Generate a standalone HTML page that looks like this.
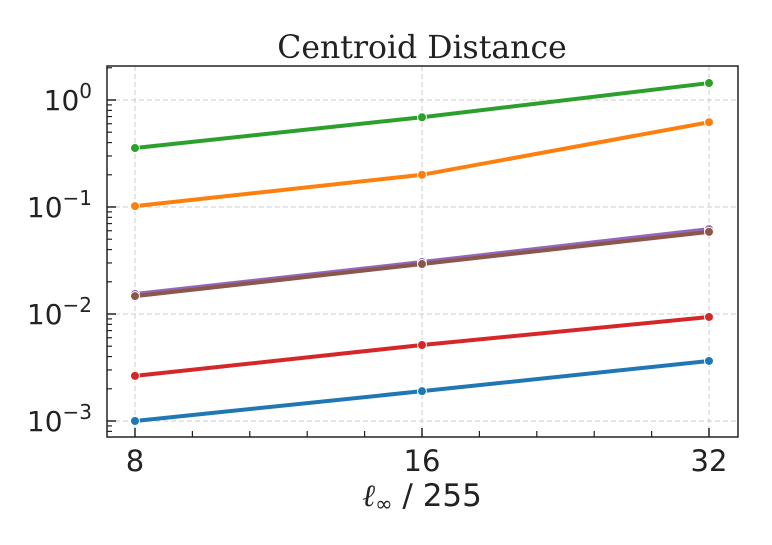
<!DOCTYPE html>
<html><head><meta charset="utf-8"><style>
body{margin:0;background:#fff;}
svg{display:block;}
</style></head><body>
<svg id="chart" width="772" height="545" xmlns="http://www.w3.org/2000/svg">
<text x="422" y="58" text-anchor="middle" font-family="DejaVu Serif, Liberation Serif, serif" font-size="31.5" fill="#222">Centroid Distance</text>
<g id="grid"></g><g id="ticks"></g><g id="series"></g>
<rect x="107" y="66" width="631" height="371" fill="none" stroke="#222" stroke-width="1.5"/>
<text x="422" y="506" text-anchor="middle" font-family="DejaVu Sans, Liberation Sans, sans-serif" font-size="31" fill="#222"><tspan font-family="DejaVu Serif, serif" font-style="italic">ℓ</tspan><tspan font-size="21" dy="5">∞</tspan><tspan dy="-5"> / 255</tspan></text>
</svg>
<script>
const categories=[8,16,32];
const seriesColors=['#2ca02c','#ff7f0e','#9467bd','#8c564b','#d62728','#1f77b4'];
const green=[0.356,0.69,1.44];
const orange=[0.102,0.2,0.62];
const purple=[0.0154,0.0306,0.0622];
const brown=[0.0147,0.0293,0.0586];
const red=[0.00264,0.00513,0.00938];
const blue=[0.001,0.0019,0.00364];
const yTickExps=[0,-1,-2,-3];
const xTickLabels=['8','16','32'];
const NS='http://www.w3.org/2000/svg';
function xs(v){return 135+287*Math.log2(v/8);}
function ys(v){return 100-107*Math.log10(v);}
function mk(t,a,p){const e=document.createElementNS(NS,t);for(const k in a)e.setAttribute(k,a[k]);p.appendChild(e);return e;}
const grid=document.getElementById('grid'),ticks=document.getElementById('ticks'),ser=document.getElementById('series');
categories.forEach((c,i)=>{const x=xs(c);
 const g=mk('line',{x1:x,x2:x,y1:66,y2:437,stroke:'#ccc','stroke-dasharray':'5,3'},grid);
 
 
 mk('line',{x1:x,x2:x,y1:437,y2:428,stroke:'#222','stroke-width':1.5},ticks);
 const t=mk('text',{x:x,y:471,'text-anchor':'middle','font-family':'DejaVu Sans, Liberation Sans, sans-serif','font-size':29,fill:'#222'},ticks);
 t.textContent=xTickLabels[i];
 
 
 if(i<categories.length-1){for(let k=1;k<5;k++){const mx=xs(c*Math.pow(2,k/5));mk('line',{x1:mx,x2:mx,y1:437,y2:431,stroke:'#222','stroke-width':1.2},ticks);}}
});
yTickExps.forEach(e=>{const y=ys(Math.pow(10,e));
 const g=mk('line',{x1:107,x2:738,y1:y,y2:y,stroke:'#ccc','stroke-dasharray':'5,3'},grid);
 
 
 mk('line',{x1:107,x2:116,y1:y,y2:y,stroke:'#222','stroke-width':1.5},ticks);
 const t=mk('text',{x:92,y:y+10,'text-anchor':'end','font-family':'DejaVu Sans, Liberation Sans, sans-serif','font-size':28,fill:'#222'},ticks);
 t.innerHTML='10<tspan font-size="20" dy="-12">'+(e<0?'\u2212'+(-e):e)+'</tspan>';
 
 
});
for(let e=-4;e<=0;e++)for(let m=2;m<10;m++){const y=ys(m*Math.pow(10,e));if(y>66&&y<437)mk('line',{x1:107,x2:112,y1:y,y2:y,stroke:'#222','stroke-width':1.2},ticks);}
const all=[green,orange,purple,brown,red,blue];
const names=['series-green','series-orange','series-purple','series-brown','series-red','series-blue'];
all.forEach((s,i)=>{
 const p=mk('polyline',{points:s.map((v,j)=>xs(categories[j])+','+ys(v)).join(' '),fill:'none',stroke:seriesColors[i],'stroke-width':4},ser);
 
 
 s.forEach((v,j)=>{const c=mk('circle',{cx:xs(categories[j]),cy:ys(v),r:4.5,fill:seriesColors[i],stroke:'#fff','stroke-width':1},ser);
  
  });
});
</script>
</body></html>
